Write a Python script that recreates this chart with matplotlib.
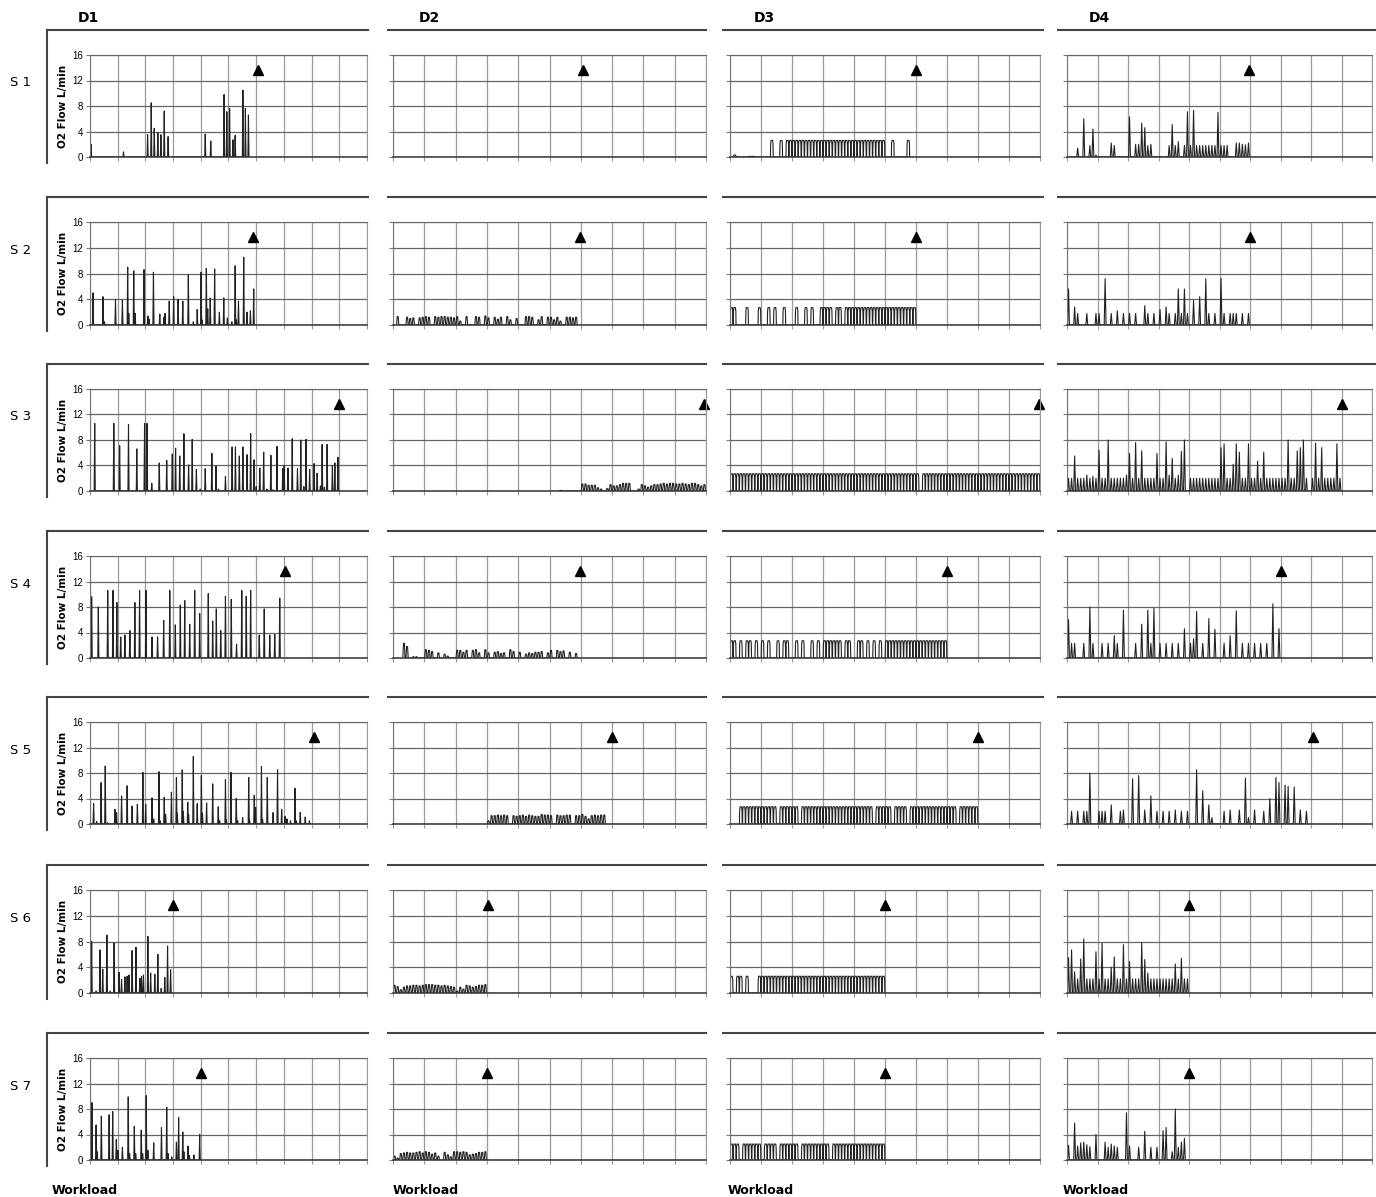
import numpy as np
import matplotlib
matplotlib.use('Agg')
import matplotlib.pyplot as plt
from matplotlib.lines import Line2D

# ---- data: D1 spikes (workload position, O2 flow L/min) ----
d1_s1_x = [0.04, 1.21, 2.08, 2.21, 2.32, 2.45, 2.56, 2.68, 2.82, 4.16, 4.36, 4.84, 4.94, 5.04, 5.16, 5.24, 5.52, 5.61, 5.72]
d1_s1_h = [2.0, 0.8, 3.5, 8.5, 4.5, 3.8, 3.5, 7.2, 3.2, 3.6, 2.5, 9.8, 7.1, 7.6, 2.7, 3.4, 10.5, 7.6, 6.6]

d1_s2_x = [0.11, 0.47, 0.52, 0.92, 1.17, 1.36, 1.40, 1.58, 1.63, 1.95, 2.09, 2.13, 2.29, 2.52, 2.67, 2.71, 2.86, 3.02, 3.18, 3.35,
           3.55, 3.73, 3.87, 4.01, 4.04, 4.20, 4.25, 4.34, 4.50, 4.67, 4.83, 4.96, 5.12, 5.24, 5.28, 5.36, 5.55, 5.67, 5.79, 5.91]
d1_s2_h = [5.0, 4.4, 0.5, 4.0, 3.9, 9.0, 1.8, 8.4, 1.8, 8.6, 1.4, 0.9, 8.2, 1.7, 1.2, 1.8, 3.7, 4.4, 4.0, 3.7,
           7.8, 0.5, 2.4, 8.2, 0.8, 8.8, 2.5, 4.2, 8.7, 2.0, 4.2, 1.1, 0.5, 9.2, 0.8, 3.7, 10.5, 2.0, 2.2, 5.6]

d1_s3_x = [0.17, 0.86, 1.07, 1.39, 1.69, 1.97, 2.06, 2.23, 2.50, 2.77, 2.97, 3.09, 3.24, 3.39, 3.56, 3.69, 3.84, 3.98, 4.16, 4.40,
           4.55, 4.64, 4.89, 5.13, 5.25, 5.39, 5.52, 5.67, 5.80, 5.92, 6.00, 6.13, 6.27, 6.39, 6.53, 6.61, 6.75, 6.96, 7.01, 7.15,
           7.30, 7.49, 7.61, 7.72, 7.80, 7.93, 8.09, 8.20, 8.32, 8.38, 8.46, 8.56, 8.75, 8.84, 8.95]
d1_s3_h = [10.6, 10.6, 7.1, 10.4, 6.6, 10.6, 10.6, 1.2, 4.4, 4.8, 5.8, 6.7, 5.5, 9.0, 4.1, 8.1, 3.4, 0.3, 3.5, 5.9,
           3.9, 0.3, 2.3, 6.9, 6.9, 5.5, 6.9, 5.7, 9.0, 4.9, 0.7, 3.6, 6.1, 0.3, 5.6, 0.2, 7.0, 3.5, 4.0, 3.6,
           8.2, 3.5, 8.0, 0.7, 8.1, 3.4, 4.3, 2.8, 0.8, 7.3, 0.6, 7.3, 4.0, 4.4, 5.3]

d1_s4_x = [0.06, 0.30, 0.64, 0.83, 0.97, 1.11, 1.26, 1.44, 1.62, 1.79, 2.02, 2.24, 2.44, 2.66, 2.88, 3.08, 3.26, 3.42, 3.60, 3.78,
           3.96, 4.27, 4.43, 4.56, 4.72, 4.89, 5.10, 5.29, 5.48, 5.64, 5.80, 6.11, 6.29, 6.49, 6.67, 6.85]
d1_s4_h = [9.6, 8.0, 10.6, 10.6, 8.7, 3.3, 3.6, 4.3, 8.7, 10.6, 10.6, 3.3, 3.3, 5.9, 10.6, 5.2, 8.3, 9.0, 5.3, 10.6,
           7.0, 10.1, 5.8, 7.7, 4.3, 9.7, 9.2, 2.2, 10.6, 9.7, 10.6, 3.6, 7.7, 3.6, 3.7, 9.4]

d1_s5_x = [0.13, 0.24, 0.40, 0.55, 0.63, 0.90, 0.96, 1.14, 1.34, 1.52, 1.71, 1.91, 2.01, 2.24, 2.30, 2.49, 2.53, 2.68, 2.73, 2.94,
           3.12, 3.15, 3.33, 3.37, 3.53, 3.56, 3.73, 3.87, 4.02, 4.06, 4.21, 4.43, 4.63, 4.68, 4.89, 4.92, 5.09, 5.28, 5.33, 5.51,
           5.73, 5.76, 5.93, 5.98, 6.19, 6.23, 6.40, 6.61, 6.77, 6.92, 7.04, 7.11, 7.24, 7.40, 7.45, 7.59, 7.77, 7.92]
d1_s5_h = [3.2, 0.4, 6.5, 9.1, 0.2, 2.3, 1.8, 4.4, 6.0, 2.8, 3.1, 8.1, 3.1, 4.1, 0.8, 8.2, 0.5, 4.2, 1.5, 5.0,
           7.3, 1.7, 8.5, 2.0, 3.4, 1.5, 10.6, 3.2, 7.6, 1.7, 3.3, 6.3, 2.7, 0.5, 7.0, 0.7, 8.1, 4.0, 0.5, 1.0,
           7.3, 0.6, 4.5, 2.6, 9.0, 0.7, 7.3, 1.8, 8.5, 2.3, 1.2, 0.8, 0.5, 5.6, 0.5, 1.8, 1.1, 0.5]

d1_s6_x = [0.06, 0.22, 0.36, 0.46, 0.61, 0.73, 0.87, 1.05, 1.14, 1.26, 1.34, 1.41, 1.52, 1.66, 1.80, 1.86, 1.93, 2.09, 2.19, 2.34,
           2.45, 2.57, 2.70, 2.80, 2.91]
d1_s6_h = [8.0, 0.3, 6.7, 3.7, 9.0, 0.3, 7.8, 3.2, 2.1, 2.5, 2.6, 2.8, 6.6, 7.1, 2.3, 2.6, 2.8, 8.8, 3.1, 2.9,
           6.0, 0.7, 2.4, 7.3, 3.6]

d1_s7_x = [0.07, 0.22, 0.26, 0.41, 0.69, 0.82, 0.95, 1.01, 1.17, 1.38, 1.43, 1.60, 1.65, 1.85, 1.90, 2.03, 2.09, 2.30, 2.58, 2.77,
           2.82, 2.95, 3.12, 3.20, 3.35, 3.39, 3.54, 3.59, 3.75, 3.96]
d1_s7_h = [9.0, 5.5, 1.3, 6.9, 7.1, 7.6, 3.2, 1.5, 2.0, 9.9, 1.0, 5.3, 1.0, 4.7, 1.0, 10.1, 1.5, 2.7, 5.1, 8.3,
           1.0, 0.5, 2.8, 6.7, 4.4, 1.3, 2.2, 0.7, 0.8, 4.0]

# ---- data: D2-D4 flow per workload step of 0.1 ----
d2_s1 = []
d2_s2 = [0, 1.3, 0, 0, 1.2, 1.0, 1.1, 0, 1.1, 1.2,
         1.3, 1.2, 0, 1.3, 1.2, 1.3, 1.3, 1.2, 1.2, 1.1,
         1.3, 0.6, 0, 1.3, 0, 0, 1.3, 1.2, 0, 1.4,
         1.1, 0, 1.2, 0.9, 1.2, 0, 1.3, 0.8, 0, 1.0,
         0, 0, 1.3, 1.3, 1.2, 0, 0.8, 1.3, 0, 1.2,
         1.2, 0.8, 1.2, 0.6, 0, 1.2, 1.2, 1.1, 1.2]
d2_s3 = [0] * 53 + [0.1] + [0] * 6 + [
         1.1, 1.1, 0.9, 0.9, 0.9, 0.5, 0.3, 0, 0.4, 1.0,
         0.8, 0.8, 1.0, 1.2, 1.2, 1.2, 0, 0, 0.3, 1.0,
         0.8, 0.6, 0.8, 1.0, 1.0, 1.1, 1.2, 1.1, 1.2, 1.2,
         1.1, 1.1, 1.2, 1.1, 1.0, 1.2, 1.2, 1.0, 0.8, 1.0]
d2_s4 = [0, 0, 0, 2.3, 1.8, 0, 0.2, 0.2, 0, 0,
         1.3, 1.2, 1.0, 0, 0.8, 0, 0.6, 0.3, 0, 0,
         1.2, 1.2, 0.9, 1.2, 0, 1.2, 1.3, 0.8, 0, 1.3,
         0.8, 0, 0.9, 1.0, 0.7, 0.8, 0, 1.3, 1.0, 0,
         0.9, 0, 0.6, 0.8, 0.7, 0.9, 0.9, 1.0, 0, 0.8,
         1.2, 0, 1.2, 1.0, 1.1, 0, 0.9, 0, 0.7]
d2_s5 = [0] * 30 + [
         0.5, 1.3, 1.3, 1.4, 1.3, 1.4, 1.3, 0, 1.3, 1.2,
         1.3, 1.4, 1.2, 1.4, 1.3, 1.2, 1.2, 1.5, 1.4, 1.4,
         1.3, 0, 1.4, 1.3, 1.3, 1.4, 1.4, 0, 1.3, 1.3,
         1.5, 1.2, 0.8, 1.3, 1.4, 1.3, 1.4, 1.4]
d2_s6 = [1.2, 1.0, 0.5, 0.9, 1.1, 1.1, 1.2, 1.2, 1.1, 1.2,
         1.3, 1.3, 1.3, 1.2, 1.2, 1.1, 1.2, 1.1, 1.0, 0.9,
         0.3, 0.9, 0.6, 1.2, 1.1, 0.9, 1.0, 1.2, 1.2, 1.3]
d2_s7 = [0.6, 0.3, 1.0, 1.1, 1.2, 1.1, 1.1, 1.2, 1.3, 1.1,
         1.3, 1.2, 0.9, 1.1, 0.6, 0, 1.2, 0.8, 0.5, 1.3,
         1.3, 1.2, 1.3, 1.2, 0.8, 0.9, 1.0, 1.2, 1.2, 1.3]

d3_s1 = [0, 0.3, 0, 0, 0, 0, 0.1, 0.1, 0, 0,
         0, 0, 0, 2.6, 0, 0, 2.6, 0, 2.6, 2.6,
         2.6, 2.6, 2.6, 2.6, 2.6, 2.6, 2.6, 2.6, 2.6, 2.6,
         2.6, 2.6, 2.6, 2.6, 2.6, 2.6, 2.6, 2.6, 2.6, 2.6,
         2.6, 2.6, 2.6, 2.6, 2.6, 2.6, 2.6, 2.6, 2.6, 2.6,
         0, 0, 2.6, 0, 0, 0, 0, 2.6]
d3_s2 = [2.7, 2.7, 0, 0, 0, 2.7, 0, 0, 0, 2.7,
         0, 0, 2.7, 0, 2.7, 0, 0, 2.7, 0, 0,
         0, 2.7, 0, 0, 2.7, 0, 2.7, 0, 0, 2.7,
         2.7, 2.7, 2.7, 0, 2.7, 2.7, 0, 2.7, 2.7, 2.7,
         2.7, 2.7, 2.7, 2.7, 2.7, 2.7, 2.7, 2.7, 2.7, 2.7,
         2.7, 2.7, 2.7, 2.7, 2.7, 2.7, 2.7, 2.7, 2.7, 2.7]
d3_s3 = [2.7, 2.7, 2.7, 2.7, 2.7, 2.7, 2.7, 2.7, 2.7, 2.7,
         2.7, 2.7, 2.7, 2.7, 2.7, 2.7, 2.7, 2.7, 2.7, 2.7,
         2.7, 2.7, 2.7, 2.7, 2.7, 2.7, 2.7, 2.7, 2.7, 2.7,
         2.7, 2.7, 2.7, 2.7, 2.7, 2.7, 2.7, 2.7, 2.7, 2.7,
         2.7, 2.7, 2.7, 2.7, 2.7, 2.7, 2.7, 2.7, 2.7, 2.7,
         2.7, 2.7, 2.7, 2.7, 2.7, 2.7, 2.7, 2.7, 2.7, 2.7,
         2.7, 0, 2.7, 2.7, 2.7, 2.7, 2.7, 2.7, 2.7, 2.7,
         2.7, 2.7, 2.7, 2.7, 2.7, 2.7, 2.7, 2.7, 2.7, 2.7,
         2.7, 2.7, 2.7, 2.7, 2.7, 2.7, 2.7, 2.7, 2.7, 2.7,
         2.7, 2.7, 2.7, 2.7, 2.7, 2.7, 2.7, 2.7, 2.7, 2.7]
d3_s4 = [2.7, 2.7, 0, 2.7, 0, 2.7, 2.7, 0, 2.7, 0,
         2.7, 0, 2.7, 0, 0, 2.7, 0, 2.7, 2.7, 0,
         0, 2.7, 0, 2.7, 0, 0, 2.7, 0, 2.7, 0,
         2.7, 2.7, 2.7, 2.7, 2.7, 2.7, 0, 2.7, 2.7, 0,
         0, 2.7, 2.7, 0, 2.7, 0, 2.7, 0, 2.7, 0,
         2.7, 2.7, 2.7, 2.7, 2.7, 2.7, 2.7, 2.7, 2.7, 2.7,
         2.7, 2.7, 2.7, 2.7, 2.7, 2.7, 2.7, 2.7, 2.7, 2.7]
d3_s5 = [0, 0, 0, 2.7, 2.7, 2.7, 2.7, 2.7, 2.7, 2.7,
         2.7, 2.7, 2.7, 2.7, 2.7, 0, 2.7, 2.7, 2.7, 2.7,
         2.7, 2.7, 0, 2.7, 2.7, 2.7, 2.7, 2.7, 2.7, 2.7,
         2.7, 2.7, 2.7, 2.7, 2.7, 2.7, 2.7, 2.7, 2.7, 2.7,
         2.7, 2.7, 2.7, 2.7, 2.7, 2.7, 0, 2.7, 2.7, 2.7,
         2.7, 2.7, 0, 2.7, 2.7, 2.7, 2.7, 0, 2.7, 2.7,
         2.7, 2.7, 2.7, 2.7, 2.7, 2.7, 2.7, 2.7, 2.7, 2.7,
         2.7, 2.7, 2.7, 0, 2.7, 2.7, 2.7, 2.7, 2.7, 2.7]
d3_s6 = [2.6, 0, 2.6, 2.6, 0, 2.6, 0, 0, 0, 2.6,
         2.6, 2.6, 2.6, 2.6, 2.6, 2.6, 2.6, 2.6, 2.6, 2.6,
         2.6, 2.6, 2.6, 2.6, 2.6, 2.6, 2.6, 2.6, 2.6, 2.6,
         2.6, 2.6, 2.6, 2.6, 2.6, 2.6, 2.6, 2.6, 2.6, 2.6,
         2.6, 2.6, 2.6, 2.6, 2.6, 2.6, 2.6, 2.6, 2.6, 2.6]
d3_s7 = [2.5, 2.5, 2.5, 0, 2.5, 2.5, 2.5, 2.5, 2.5, 2.5,
         0, 2.5, 2.5, 2.5, 2.5, 0, 2.5, 2.5, 2.5, 2.5,
         2.5, 2.5, 0, 2.5, 2.5, 2.5, 2.5, 2.5, 2.5, 2.5,
         2.5, 2.5, 0, 2.5, 2.5, 2.5, 2.5, 2.5, 2.5, 2.5,
         2.5, 2.5, 2.5, 2.5, 2.5, 2.5, 2.5, 2.5, 2.5, 2.5]

d4_s1 = [0, 0.1, 0, 1.4, 0, 6.0, 0, 1.8, 4.4, 0.3,
         0, 0, 0, 0, 2.2, 1.8, 0, 0, 0, 0,
         6.3, 0, 2.0, 2.0, 5.3, 4.6, 1.8, 2.0, 0, 0,
         0, 0, 0, 1.8, 5.1, 1.8, 2.4, 0, 1.8, 7.1,
         1.8, 7.3, 1.8, 1.8, 1.8, 1.8, 1.8, 1.8, 1.8, 7.0,
         1.8, 1.8, 1.8, 0, 0, 2.2, 2.2, 2.0, 1.9, 2.2]
d4_s2 = [5.6, 0, 2.8, 1.8, 0, 0, 1.8, 0, 0, 1.8,
         1.8, 0, 7.2, 0, 1.8, 0, 2.2, 0, 1.8, 0,
         1.8, 0, 1.8, 0, 0, 3.0, 1.8, 0, 1.8, 0,
         2.4, 0, 2.8, 1.8, 0, 1.8, 5.6, 1.8, 5.6, 1.8,
         0, 3.8, 0, 4.4, 0, 7.2, 1.8, 0, 1.8, 0,
         7.2, 1.8, 0, 1.8, 1.8, 1.8, 0, 1.8, 0, 1.8]
d4_s3 = [2.0, 2.0, 5.5, 2.0, 2.0, 2.0, 2.5, 2.0, 2.3, 2.0,
         6.4, 2.0, 2.0, 8.0, 2.0, 2.0, 2.0, 2.0, 2.0, 2.5,
         5.9, 2.0, 7.6, 2.0, 6.3, 2.0, 2.0, 2.0, 2.0, 5.9,
         2.0, 2.0, 7.7, 2.5, 5.1, 2.0, 2.5, 6.2, 8.0, 0,
         2.0, 2.0, 2.0, 2.0, 2.0, 2.0, 2.0, 2.0, 2.0, 2.0,
         6.8, 7.4, 2.0, 2.0, 4.2, 7.4, 6.1, 2.0, 2.0, 7.4,
         2.0, 2.0, 4.7, 2.0, 6.1, 2.0, 2.0, 2.0, 2.0, 2.0,
         2.0, 2.0, 8.0, 2.0, 2.0, 6.3, 6.8, 8.0, 2.0, 0,
         2.0, 7.5, 2.0, 6.8, 2.0, 2.0, 2.0, 2.0, 7.4, 2.0]
d4_s4 = [6.0, 2.3, 2.3, 0, 0, 2.3, 0, 8.0, 2.3, 0,
         0, 2.3, 0, 2.3, 0, 3.5, 2.3, 0, 7.5, 0,
         0, 0, 2.3, 0, 5.3, 0, 7.5, 2.3, 7.8, 0,
         2.3, 0, 2.3, 0, 2.3, 0, 2.3, 0, 4.6, 0,
         2.3, 3.0, 7.3, 0, 2.3, 0, 6.2, 0, 4.5, 0,
         0, 2.3, 0, 3.5, 0, 7.4, 0, 2.3, 0, 2.3,
         0, 2.3, 0, 2.3, 0, 2.3, 0, 8.5, 0, 4.6]
d4_s5 = [0, 2.0, 0, 2.0, 0, 2.0, 2.0, 8.0, 0, 0,
         2.0, 2.0, 2.0, 0, 3.0, 0, 0, 2.0, 2.2, 0,
         0, 7.1, 0, 7.6, 0, 2.2, 0, 4.4, 0, 2.0,
         0, 2.0, 0, 2.0, 0, 2.2, 0, 2.0, 0, 2.0,
         0, 0, 8.5, 0, 5.2, 0, 3.0, 1.0, 0, 0,
         0, 2.0, 0, 2.2, 0, 0, 2.2, 0, 7.2, 1.0,
         0, 2.2, 0, 0, 2.0, 0, 4.0, 0, 7.3, 6.5,
         0, 6.1, 5.9, 0, 5.8, 0, 2.2, 0, 2.0, 0]
d4_s6 = [5.5, 6.7, 3.3, 2.2, 5.3, 8.4, 2.2, 2.2, 2.2, 6.4,
         2.2, 7.7, 2.2, 2.2, 4.0, 5.6, 2.2, 2.2, 7.5, 2.2,
         4.9, 2.2, 2.2, 2.2, 7.8, 5.2, 3.1, 2.2, 2.2, 2.2,
         2.2, 2.2, 2.2, 2.2, 2.2, 4.5, 2.2, 5.4, 2.2, 2.2]
d4_s7 = [2.3, 0, 5.8, 2.2, 2.7, 2.8, 2.4, 2.1, 0, 4.0,
         0, 0, 2.8, 2.0, 2.5, 2.2, 2.0, 0, 0, 7.4,
         2.2, 0, 0, 2.0, 0, 4.5, 0, 2.0, 0, 2.0,
         0, 4.6, 5.1, 0, 1.3, 8.0, 2.0, 2.8, 3.4]

# end-of-test markers (workload position, height)
d1_end = [6.05, 5.9, 9.0, 7.05, 8.1, 3.0, 4.0]
d2_end = [6.08, 5.97, 9.95, 5.97, 7.0, 3.02, 3.0]
d3_end = [6.0, 6.0, 9.97, 7.0, 8.0, 5.0, 5.0]
d4_end = [5.97, 6.0, 9.02, 7.0, 8.05, 4.0, 4.0]
end_y = 13.7

col_names = ['D1', 'D2', 'D3', 'D4']
row_names = ['S 1', 'S 2', 'S 3', 'S 4', 'S 5', 'S 6', 'S 7']
y_ticks = [0, 4, 8, 12, 16]

d1_x = [d1_s1_x, d1_s2_x, d1_s3_x, d1_s4_x, d1_s5_x, d1_s6_x, d1_s7_x]
d1_h = [d1_s1_h, d1_s2_h, d1_s3_h, d1_s4_h, d1_s5_h, d1_s6_h, d1_s7_h]
d2 = [d2_s1, d2_s2, d2_s3, d2_s4, d2_s5, d2_s6, d2_s7]
d3 = [d3_s1, d3_s2, d3_s3, d3_s4, d3_s5, d3_s6, d3_s7]
d4 = [d4_s1, d4_s2, d4_s3, d4_s4, d4_s5, d4_s6, d4_s7]
ends = [d1_end, d2_end, d3_end, d4_end]

# pulse outlines (offset in workload, fraction of height)
shapes = [
    [(-0.02, 0), (0, 1), (0.02, 0)],
    [(-0.035, 0), (-0.015, 1), (0.015, 1), (0.035, 0)],
    [(-0.045, 0), (-0.038, 0.8), (-0.025, 1), (0.025, 1), (0.038, 0.8), (0.045, 0)],
    [(-0.03, 0), (0, 1), (0.03, 0)],
]

# ---- layout in pixels ----
W, H = 1376, 1197
col_left = [90, 393, 730, 1067]
col_right = [367, 706, 1040, 1372]
frame_left = [47, 388, 723, 1058]
frame_right = [368, 706, 1043, 1376]
row_top = [55, 222, 389, 556, 722, 890, 1058]
row_bot = [157, 325, 491, 658, 824, 993, 1160]


def fx(p):
    return p / W


def fy(p):
    return 1 - p / H


def trace(xs, hs, shape):
    px, py = [], []
    for x, h in zip(xs, hs):
        if h <= 0:
            continue
        for dx, f in shape:
            px.append(x + dx)
            py.append(h * f)
    return px, py


fig = plt.figure(figsize=(W / 100, H / 100), dpi=100)

for r in range(7):
    for c in range(4):
        ax = fig.add_axes([fx(col_left[c]), fy(row_bot[r]),
                           (col_right[c] - col_left[c]) / W,
                           (row_bot[r] - row_top[r]) / H])
        ax.set_xlim(0, 10)
        ax.set_ylim(0, 16)
        ax.set_xticks(range(11))
        ax.set_yticks(y_ticks)
        ax.grid(axis='x', color='#9a9a9a', lw=0.9)
        ax.grid(axis='y', color='#666666', lw=0.9)
        ax.set_axisbelow(True)
        ax.spines['top'].set_color('#666666')
        ax.spines['right'].set_color('#9a9a9a')
        ax.spines['left'].set_color('#777777')
        ax.spines['bottom'].set_color('#333333')
        ax.spines['bottom'].set_linewidth(1.1)
        ax.tick_params(axis='x', direction='out', length=3, color='#999999',
                       labelbottom=False)
        ax.tick_params(axis='y', direction='out', length=3, color='#777777',
                       labelleft=(c == 0), labelsize=7, pad=2)
        if c == 0:
            for lab in ax.get_yticklabels():
                lab.set_family('Liberation Sans')
            ax.set_ylabel('O2 Flow L/min', fontsize=7.5, fontweight='bold',
                          family='DejaVu Sans', labelpad=3)
            xs, hs = d1_x[r], d1_h[r]
        else:
            hs = [d2, d3, d4][c - 1][r]
            xs = list(np.arange(len(hs)) * 0.1 + 0.05)
        px, py = trace(xs, hs, shapes[c])
        if px:
            ax.plot(px, py, color='#222222', lw=0.8)
        ax.plot([ends[c][r]], [end_y], marker='^', color='black', ms=7,
                clip_on=False)

    # chart-area borders
    yf = row_top[r] - 25
    for c in range(4):
        fig.add_artist(Line2D([fx(frame_left[c]), fx(frame_right[c])],
                              [fy(yf), fy(yf)], color='#444444', lw=1.5))
    fig.add_artist(Line2D([fx(frame_left[0])] * 2, [fy(yf), fy(row_bot[r] + 6)],
                          color='#444444', lw=1.5))
    fig.text(fx(10), fy(row_top[r] + 28), row_names[r], fontsize=9.5,
             va='center', ha='left')

for c in range(4):
    fig.text(fx(frame_left[c] + 31), fy(18), col_names[c], fontsize=10,
             fontweight='bold', va='center', ha='left')
    fig.text(fx(frame_left[c] + 5), fy(1190), 'Workload', fontsize=9,
             fontweight='bold', va='center', ha='left')

fig.savefig('out.png', dpi=100)
